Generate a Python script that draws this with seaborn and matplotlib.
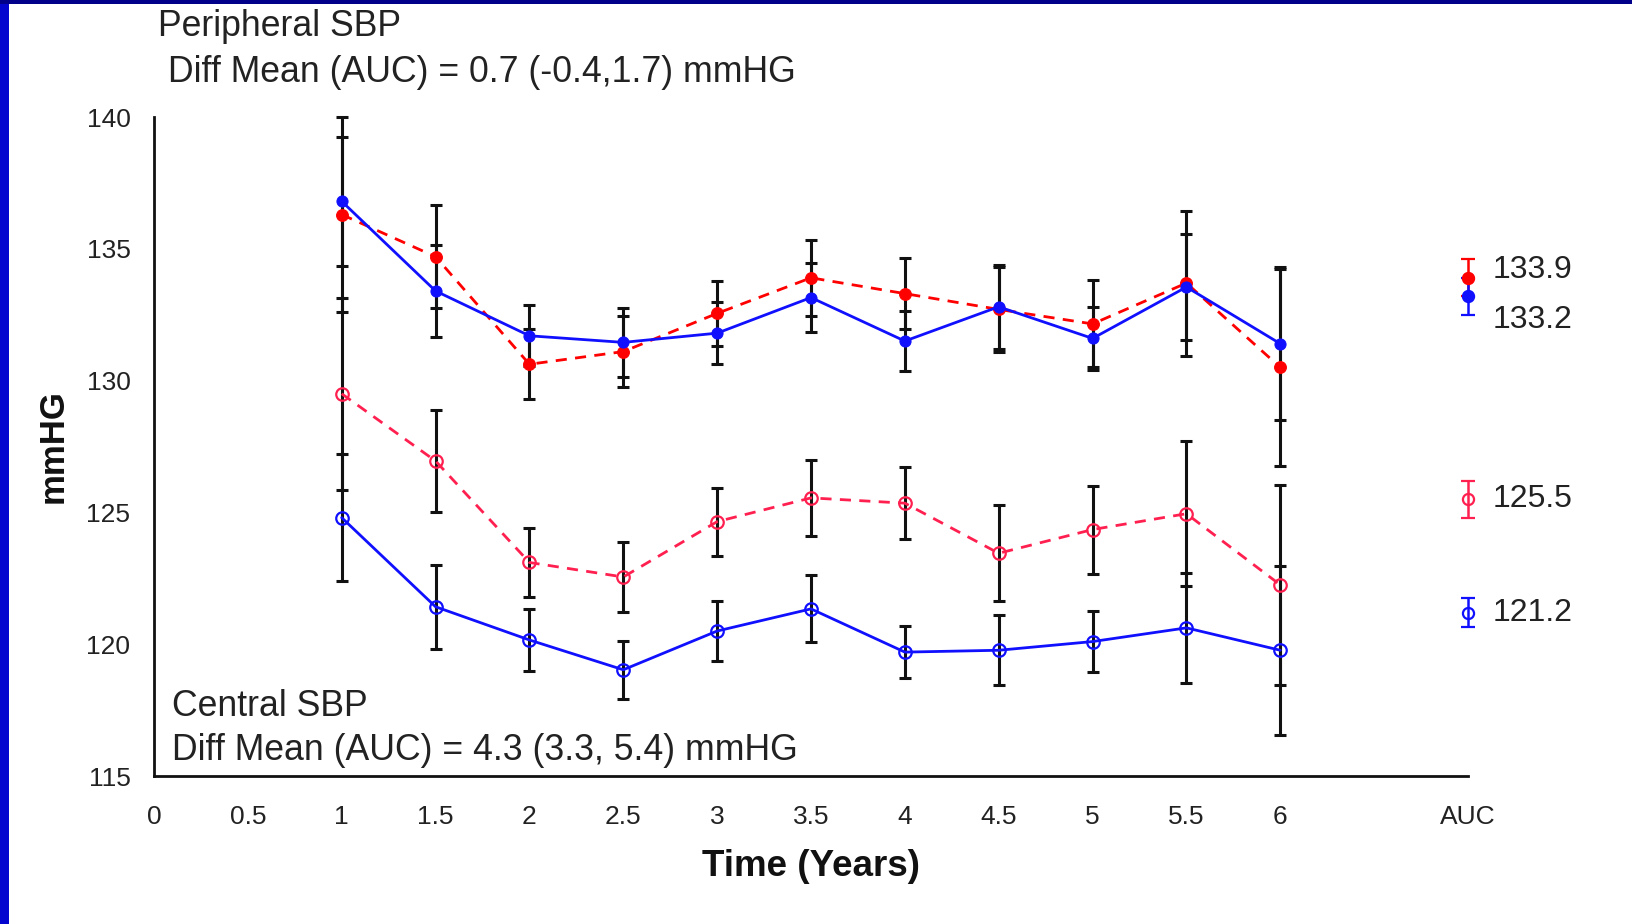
import numpy as np
import pandas as pd
import matplotlib
matplotlib.use("Agg")
import matplotlib.pyplot as plt
from matplotlib.patches import Rectangle
import seaborn as sns

# ---- data -------------------------------------------------------------
years = [1, 1.5, 2, 2.5, 3, 3.5, 4, 4.5, 5, 5.5, 6]

# Peripheral SBP (filled markers)
periph_red = [136.3, 134.7, 130.62, 131.1, 132.55, 133.9, 133.3, 132.7, 132.15, 133.7, 130.5]
periph_red_err = [3.7, 1.95, 1.33, 1.35, 1.22, 1.45, 1.35, 1.6, 1.65, 2.75, 3.73]
periph_blue = [136.8, 133.4, 131.7, 131.45, 131.8, 133.15, 131.5, 132.8, 131.6, 133.55, 131.4]
periph_blue_err = [2.45, 1.75, 1.15, 1.3, 1.17, 1.3, 1.15, 1.6, 1.18, 2.0, 2.9]

# Central SBP (open markers)
central_red = [129.5, 126.95, 123.1, 122.55, 124.65, 125.55, 125.35, 123.45, 124.35, 124.95, 122.25]
central_red_err = [3.65, 1.95, 1.31, 1.32, 1.29, 1.45, 1.36, 1.83, 1.67, 2.75, 3.8]
central_blue = [124.8, 121.42, 120.16, 119.03, 120.5, 121.34, 119.7, 119.77, 120.1, 120.62, 119.77]
central_blue_err = [2.4, 1.6, 1.16, 1.11, 1.12, 1.27, 0.98, 1.33, 1.15, 2.1, 3.2]

# Area-under-curve summaries
auc_pos = 7
auc_values = [133.9, 133.2, 125.5, 121.2]
auc_errs = [0.7, 0.7, 0.7, 0.55]

x_ticks = [0, 0.5, 1, 1.5, 2, 2.5, 3, 3.5, 4, 4.5, 5, 5.5, 6, 6.5, 7]
x_ticklabels = ["0", "0.5", "1", "1.5", "2", "2.5", "3", "3.5", "4", "4.5",
                "5", "5.5", "6", "", "AUC"]
y_ticks = [115, 120, 125, 130, 135, 140]

# ---- style ------------------------------------------------------------
sns.set_theme(style="white")
plt.rcParams["font.family"] = ["Liberation Sans", "DejaVu Sans"]

RED = "#ff0000"
PINK = "#ff2050"
BLUE = "#1010ff"

W, H = 1633, 924
fig = plt.figure(figsize=(W / 100, H / 100), dpi=100)
fig.patch.set_facecolor("white")

left, right, top, bottom = 154, 1468, 117, 776
ax = fig.add_axes([left / W, 1 - bottom / H, (right - left) / W, (bottom - top) / H])
ax.set_facecolor("white")

# black confidence bars at each visit
for vals, errs in [(periph_red, periph_red_err), (periph_blue, periph_blue_err),
                   (central_red, central_red_err), (central_blue, central_blue_err)]:
    ax.errorbar(years, vals, yerr=errs, fmt="none", ecolor="#111111",
                elinewidth=2.2, capsize=4.5, capthick=2.2, zorder=2, clip_on=False)

df = pd.DataFrame({
    "year": years * 4,
    "sbp": periph_red + periph_blue + central_red + central_blue,
    "series": (["periph_red"] * 11 + ["periph_blue"] * 11 +
               ["central_red"] * 11 + ["central_blue"] * 11),
})

styles = {
    "periph_red": dict(color=RED, linestyle=(0, (4, 3)), marker="o",
                       markerfacecolor=RED, markeredgecolor=RED, markersize=8.5),
    "periph_blue": dict(color=BLUE, linestyle="-", marker="o",
                        markerfacecolor=BLUE, markeredgecolor=BLUE, markersize=8),
    "central_red": dict(color=PINK, linestyle=(0, (4, 3)), marker="o",
                        markerfacecolor="none", markeredgecolor=PINK,
                        markersize=9, markeredgewidth=1.6),
    "central_blue": dict(color=BLUE, linestyle="-", marker="o",
                         markerfacecolor="none", markeredgecolor=BLUE,
                         markersize=9, markeredgewidth=1.6),
}
for name, st in styles.items():
    sub = df[df["series"] == name]
    sns.lineplot(data=sub, x="year", y="sbp", ax=ax, linewidth=2,
                 zorder=3, clip_on=False, legend=False, **st)

# AUC summaries, each with its own coloured bar
auc_styles = [
    dict(color=RED, mfc=RED),
    dict(color=BLUE, mfc=BLUE),
    dict(color=PINK, mfc="none"),
    dict(color=BLUE, mfc="none"),
]
for val, err, st in zip(auc_values, auc_errs, auc_styles):
    ax.errorbar([auc_pos], [val], yerr=[err], fmt="o", color=st["color"],
                mfc=st["mfc"], mec=st["color"], ms=8, mew=1.6,
                elinewidth=1.8, capsize=5, capthick=1.8, clip_on=False, zorder=4)

label_offsets = [0.3, -0.9, 0.0, 0.0]
for val, off in zip(auc_values, label_offsets):
    ax.text(auc_pos + 0.13, val + off, f"{val:.1f}", fontsize=23,
            color="#222222", va="center", ha="left", clip_on=False)

# ---- axes -------------------------------------------------------------
ax.set_xlim(0, 7)
ax.set_ylim(115, 140)
ax.set_xticks(x_ticks)
ax.set_xticklabels(x_ticklabels)
ax.set_yticks(y_ticks)
ax.tick_params(axis="both", direction="out", length=7, width=2, color="#111111",
               labelsize=19, labelcolor="#222222")
ax.tick_params(axis="x", pad=14)
ax.tick_params(axis="y", pad=10)
for side in ["top", "right"]:
    ax.spines[side].set_visible(False)
for side in ["left", "bottom"]:
    ax.spines[side].set_color("#111111")
    ax.spines[side].set_linewidth(2)

ax.set_xlabel("Time (Years)", fontsize=26.5, fontweight="bold", color="#111111",
              labelpad=14)
ax.set_ylabel("mmHG", fontsize=25, fontweight="bold", color="#111111",
              labelpad=12)

# ---- annotations -----------------------------------------------------
def fig_text(px, py, s, **kw):
    fig.text(px / W, 1 - py / H, s, va="center", ha="left", color="#222222", **kw)

fig_text(158, 27, "Peripheral SBP", fontsize=25.7)
fig_text(168, 72, "Diff Mean (AUC) = 0.7 (-0.4,1.7) mmHG", fontsize=25.7)
fig_text(172, 707, "Central SBP", fontsize=25.7)
fig_text(172, 751, "Diff Mean (AUC) = 4.3 (3.3, 5.4) mmHG", fontsize=25.7)

# slide frame strips
fig.patches.append(Rectangle((0, 0), 9 / W, 1, transform=fig.transFigure,
                             facecolor="#0505d0", edgecolor="none", zorder=10))
fig.patches.append(Rectangle((0, 1 - 4 / H), 1, 4 / H, transform=fig.transFigure,
                             facecolor="#00008b", edgecolor="none", zorder=10))

fig.savefig("out.png", dpi=100, facecolor="white")
